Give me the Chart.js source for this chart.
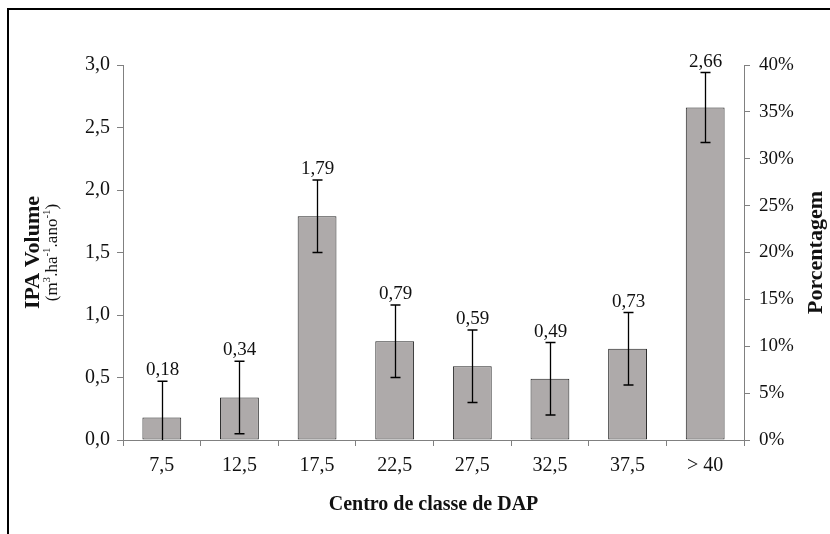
<!DOCTYPE html>
<html>
<head>
<meta charset="utf-8">
<script src="https://cdn.jsdelivr.net/npm/chart.js@4"></script>
<style>
  html, body { margin: 0; padding: 0; background: #fff; }
  #wrap { position: relative; width: 830px; height: 534px; }
  #frame { position: absolute; left: 7px; top: 8px; right: 0; bottom: 0;
           border-top: 2px solid #000; border-left: 2px solid #000; pointer-events: none; }
</style>
</head>
<body>
<div id="wrap">
  <canvas id="chart" width="830" height="534"></canvas>
  <div id="frame"></div>
</div>
<script>
// ===== DATA =====
const CLASSES    = ['7,5', '12,5', '17,5', '22,5', '27,5', '32,5', '37,5', '> 40'];
const IPA_VOLUME = [0.18, 0.34, 1.79, 0.79, 0.59, 0.49, 0.73, 2.66];
const ERRORS     = [0.29, 0.29, 0.29, 0.29, 0.29, 0.29, 0.29, 0.28];

const SERIF = '"Liberation Serif", "Times New Roman", serif';
const comma = (v, d) => v.toFixed(d).replace('.', ',');

// ======== ERROR BARS + VALUE LABELS ========
const errorBars = {
  id: 'errorBars',
  afterDatasetsDraw(chart) {
    const { ctx, scales: { x, y } } = chart;
    ctx.save();
    ctx.strokeStyle = '#000';
    ctx.lineWidth = 1.3;
    ctx.fillStyle = '#111';
    ctx.font = '19px ' + SERIF;
    ctx.textAlign = 'center';
    ctx.textBaseline = 'alphabetic';
    IPA_VOLUME.forEach((v, i) => {
      const cx  = Math.round(x.getPixelForValue(i)) + 0.5;
      const top = y.getPixelForValue(v + ERRORS[i]);
      const bot = y.getPixelForValue(Math.max(0, v - ERRORS[i]));
      ctx.beginPath();
      ctx.moveTo(cx, top); ctx.lineTo(cx, bot);
      ctx.moveTo(cx - 5, top); ctx.lineTo(cx + 5, top);
      if (v - ERRORS[i] > 0) { ctx.moveTo(cx - 5, bot); ctx.lineTo(cx + 5, bot); }
      ctx.stroke();
      ctx.fillText(comma(v, 2), cx, top - 6);
    });
    ctx.restore();
  },
};

// ======== AXIS TITLES ========
function drawRich(ctx, parts, size) {
  let total = 0;
  parts.forEach(([t, sup]) => {
    ctx.font = (sup ? size * 0.65 : size) + 'px ' + SERIF;
    total += ctx.measureText(t).width;
  });
  let x = -total / 2;
  parts.forEach(([t, sup]) => {
    ctx.font = (sup ? size * 0.65 : size) + 'px ' + SERIF;
    ctx.fillText(t, x, sup ? -size * 0.35 : 0);
    x += ctx.measureText(t).width;
  });
}

const axisTitles = {
  id: 'axisTitles',
  afterDraw(chart) {
    const { ctx, chartArea: a } = chart;
    const midY = (a.top + a.bottom) / 2;
    ctx.save();
    ctx.fillStyle = '#111';
    ctx.textBaseline = 'middle';
    ctx.textAlign = 'center';

    ctx.font = 'bold 20px ' + SERIF;
    ctx.fillText('Centro de classe de DAP', (a.left + a.right) / 2, 505);

    ctx.save();
    ctx.translate(33, midY);
    ctx.rotate(-Math.PI / 2);
    ctx.font = 'bold 22px ' + SERIF;
    ctx.fillText('IPA Volume', 0, 0);
    ctx.textAlign = 'left';
    ctx.translate(0, 20);
    drawRich(ctx, [['(m', 0], ['3', 1], ['.ha', 0], ['-1', 1], ['.ano', 0], ['-1', 1], [')', 0]], 17);
    ctx.restore();

    ctx.save();
    ctx.translate(816, midY);
    ctx.rotate(-Math.PI / 2);
    ctx.font = 'bold 22px ' + SERIF;
    ctx.fillText('Porcentagem', 0, 0);
    ctx.restore();

    ctx.restore();
  },
};

// ======== CHART ========
new Chart(document.getElementById('chart'), {
  type: 'bar',
  data: {
    labels: CLASSES,
    datasets: [{
      data: IPA_VOLUME,
      backgroundColor: '#aeaaaa',
      borderColor: '#222',
      borderWidth: 1,
      borderSkipped: false,
      categoryPercentage: 1,
      barPercentage: 0.5,
      yAxisID: 'y',
    }],
  },
  options: {
    responsive: false,
    animation: false,
    layout: { padding: { top: 65, left: 0, right: 0, bottom: 0 } },
    plugins: { legend: { display: false }, tooltip: { enabled: false } },
    scales: {
      x: {
        grid: { display: true, drawOnChartArea: false, tickLength: 6, color: '#808080', offset: true },
        border: { color: '#808080', width: 1 },
        ticks: { color: '#111', font: { family: SERIF, size: 20 }, padding: 8 },
        afterFit: s => { s.height = 94; },
      },
      y: {
        position: 'left',
        min: 0, max: 3,
        grid: { display: true, drawOnChartArea: false, tickLength: 6, color: '#808080' },
        border: { color: '#808080', width: 1 },
        ticks: { stepSize: 0.5, color: '#111', font: { family: SERIF, size: 20 }, padding: 7,
                 callback: v => comma(v, 1) },
        afterFit: s => { s.width = 123; },
      },
      y2: {
        position: 'right',
        min: 0, max: 40,
        grid: { display: true, drawOnChartArea: false, tickLength: 6, color: '#808080' },
        border: { color: '#808080', width: 1 },
        ticks: { stepSize: 5, color: '#111', font: { family: SERIF, size: 19 }, padding: 9,
                 callback: v => v + '%' },
        afterFit: s => { s.width = 86; },
      },
    },
  },
  plugins: [errorBars, axisTitles],
});
</script>
</body>
</html>
